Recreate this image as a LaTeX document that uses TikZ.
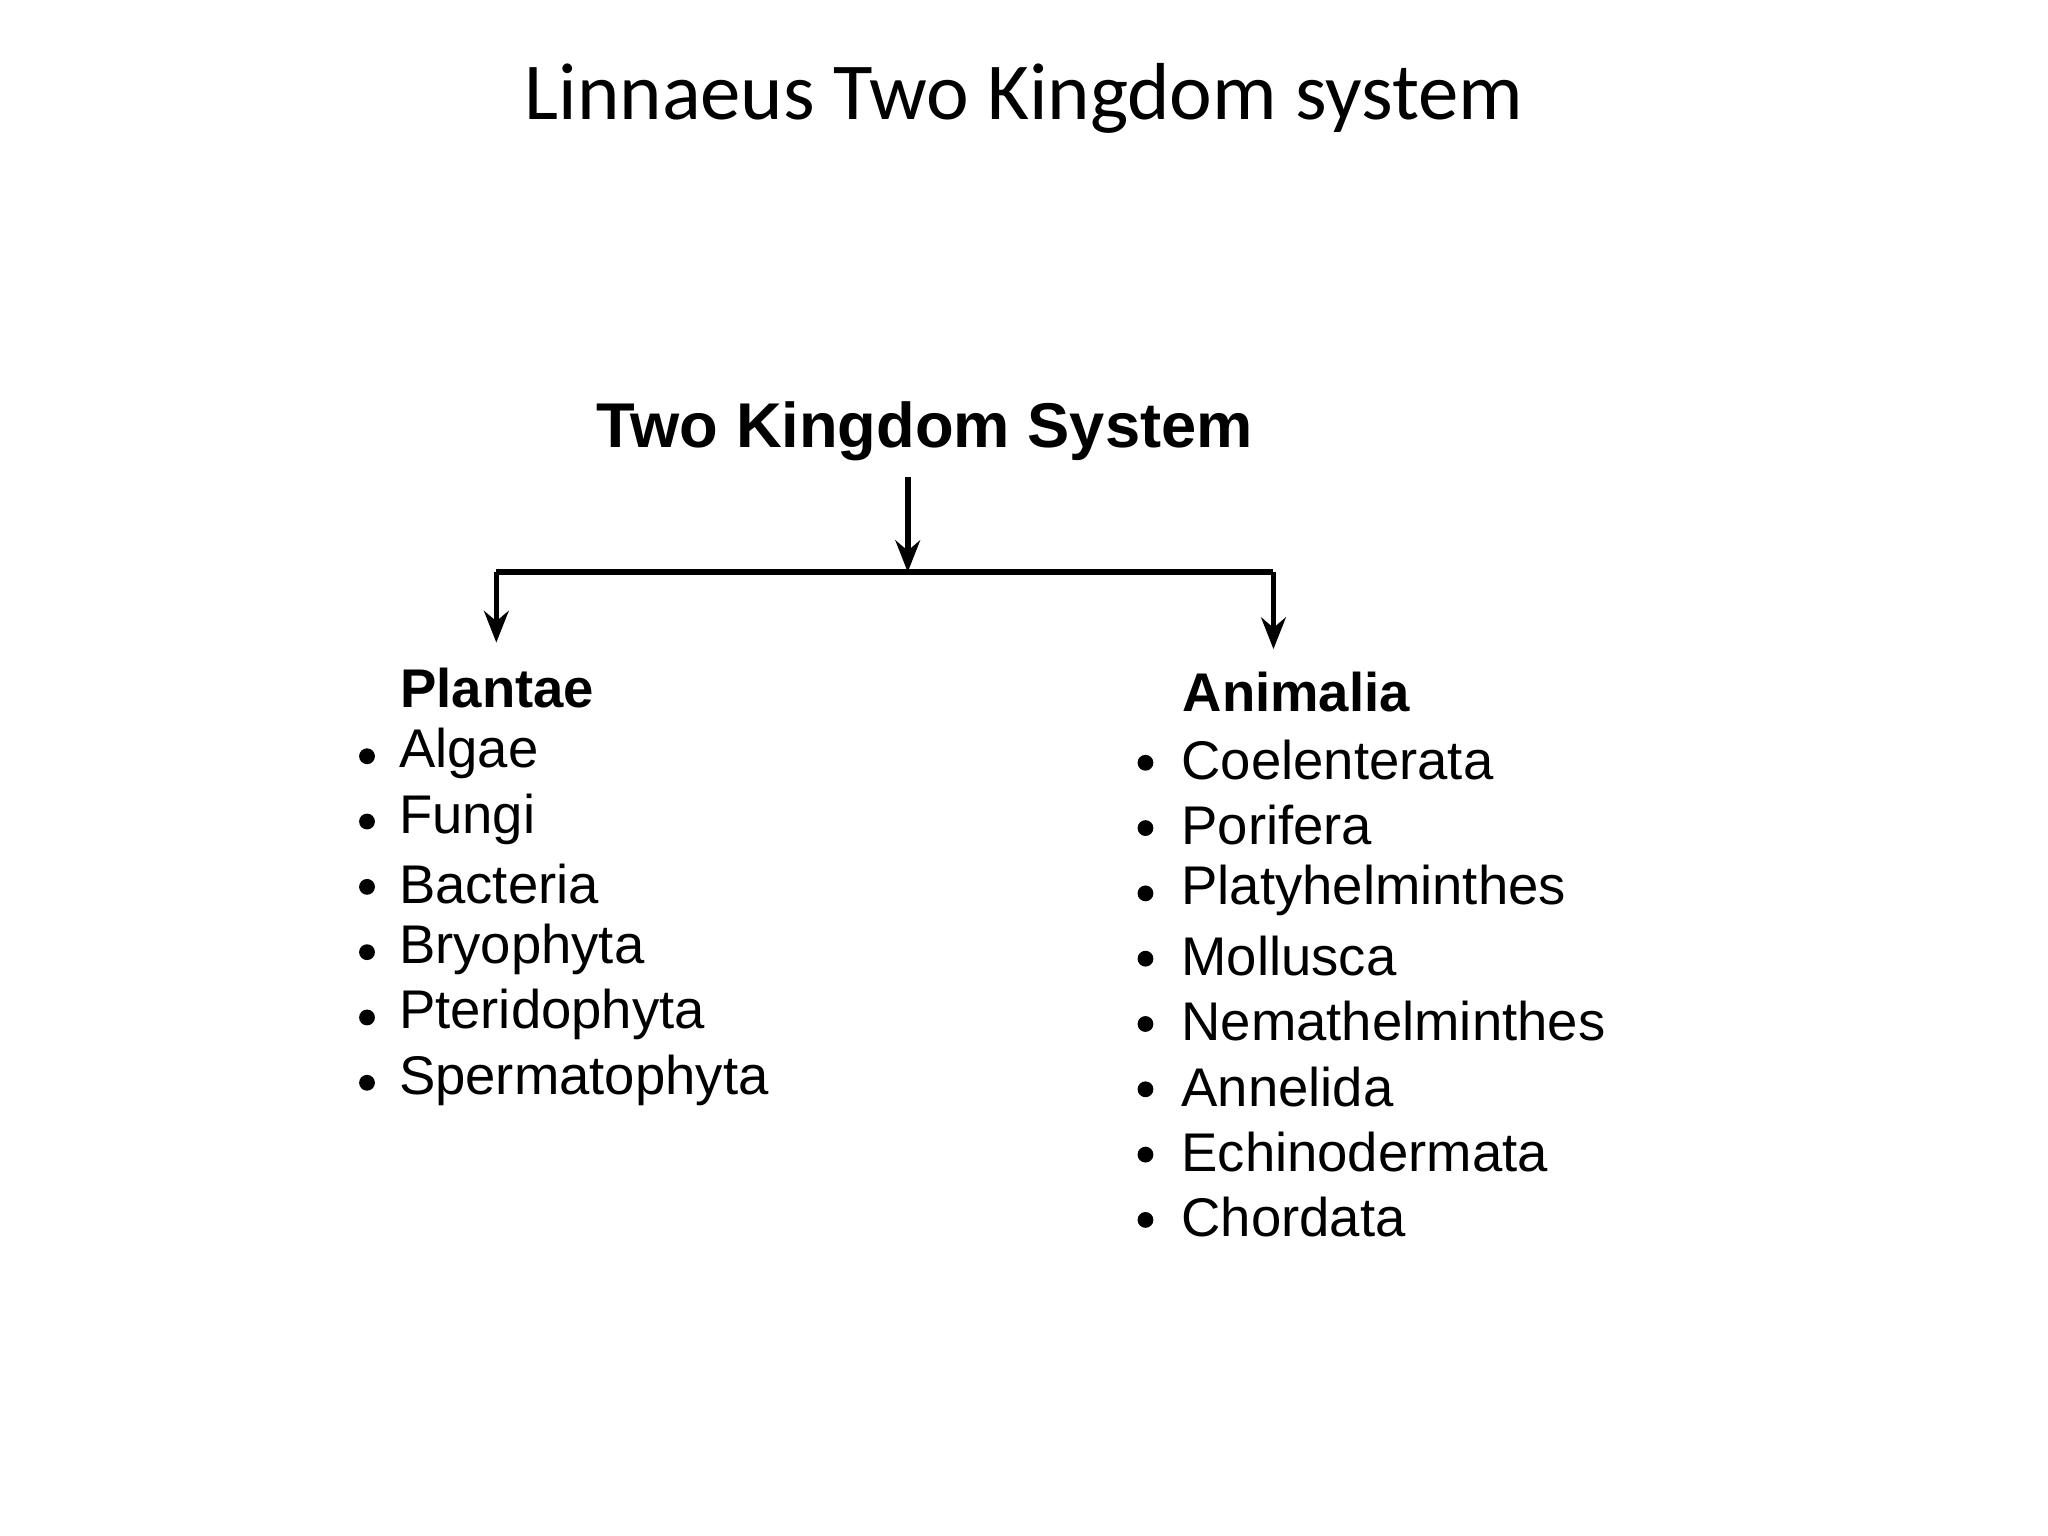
\documentclass[tikz,border=0pt]{standalone}
\usepackage{fontspec}
\usetikzlibrary{arrows.meta}
\setmainfont{Liberation Sans}
\newfontfamily\titlefont{Carlito}
\begin{document}
\begin{tikzpicture}[x=0.01306cm,y=-0.01306cm,
  item/.style={anchor=west,inner sep=0pt,font=\fontsize{15.5}{18}\selectfont},
  head/.style={anchor=west,inner sep=0pt,font=\bfseries\fontsize{15.5}{18}\selectfont},
  conn/.style={line width=1.6pt},
  arr/.style={conn,-{Stealth[length=9pt,width=7pt]}},
  bul/.style={circle,fill=black,inner sep=0pt,minimum size=4.5pt}]
\useasboundingbox (0,0) rectangle (1568,1176);
\node (title) at (784,75) {\titlefont\fontsize{23}{28}\selectfont Linnaeus Two Kingdom system};
\node[inner sep=0pt,font=\bfseries\fontsize{18}{22}\selectfont] (root) at (708,330) {Two Kingdom System};
\coordinate (j) at (695,438);
\coordinate (l) at (380,438);
\coordinate (r) at (975,438);
\draw[arr] (695,365) -- (j);
\draw[conn] (l) -- (r);
\node[head] (pl) at (306,527) {Plantae};
\node[head] (an) at (905,530) {Animalia};
\draw[arr] (l) -- (380,492);
\draw[arr] (r) -- (975,497);
\foreach \t [count=\i] in {Algae,Fungi,Bacteria,Bryophyta,Pteridophyta,Spermatophyta}{
  \node[item] (p\i) at (305,527+50*\i) {\t};
  \node[bul] (pb\i) at (281,529+50*\i) {};
}
\foreach \t [count=\i] in {Coelenterata,Porifera,Platyhelminthes,Mollusca,Nemathelminthes,Annelida,Echinodermata,Chordata}{
  \node[item] (a\i) at (904,532+50*\i) {\t};
  \node[bul] (ab\i) at (877,534+50*\i) {};
}
\end{tikzpicture}
\end{document}
